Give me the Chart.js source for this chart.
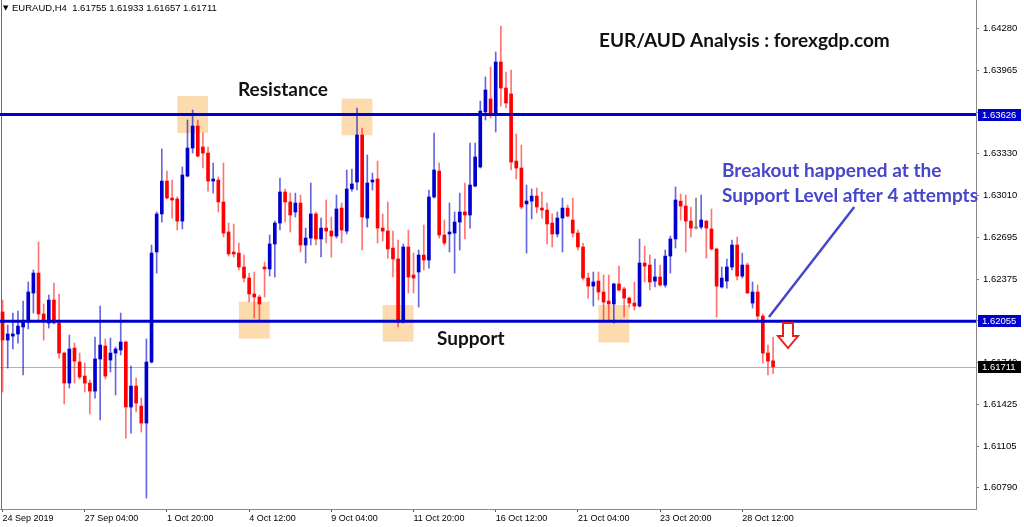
<!DOCTYPE html>
<html>
<head>
<meta charset="utf-8">
<title>EUR/AUD H4</title>
<script src="https://cdn.jsdelivr.net/npm/chart.js@4.4.1/dist/chart.umd.min.js"></script>
<style>
  html, body { margin: 0; padding: 0; background: #fff; }
  canvas { display: block; }
</style>
</head>
<body>
<canvas id="chart" width="1024" height="527"></canvas>
<script>
// EURAUD H4 candles (oldest first)
const opens = [
  1.62126, 1.61913, 1.61943, 1.61959, 1.62012, 1.62050, 1.62270, 1.62422, 1.62111, 1.62042,
  1.62217, 1.62042, 1.61814, 1.61586, 1.61852, 1.61746, 1.61639, 1.61586, 1.61525, 1.61769,
  1.61867, 1.61761, 1.61814, 1.61837, 1.61898, 1.61404, 1.61563, 1.61411, 1.61282, 1.61746,
  1.62582, 1.62871, 1.63121, 1.62992, 1.62985, 1.62817, 1.63159, 1.63372, 1.63539, 1.63380,
  1.63334, 1.63121, 1.63129, 1.62962, 1.62734, 1.62582, 1.62574, 1.62468, 1.62384, 1.62263,
  1.62240, 1.62468, 1.62453, 1.62643, 1.62802, 1.63038, 1.62962, 1.62886, 1.62954, 1.62635,
  1.62688, 1.62871, 1.62681, 1.62764, 1.62741, 1.62703, 1.62916, 1.62741, 1.63061, 1.63114,
  1.63471, 1.62840, 1.63114, 1.63137, 1.62764, 1.62741, 1.62612, 1.62529, 1.62050, 1.62620,
  1.62407, 1.62430, 1.62559, 1.62521, 1.63000, 1.63197, 1.62711, 1.62719, 1.62726, 1.62810,
  1.62886, 1.62863, 1.63083, 1.63228, 1.63646, 1.63745, 1.63638, 1.64026, 1.63828, 1.63783,
  1.63273, 1.63220, 1.62947, 1.62969, 1.63007, 1.62916, 1.62901, 1.62802, 1.62719, 1.62840,
  1.62916, 1.62825, 1.62726, 1.62620, 1.62384, 1.62323, 1.62361, 1.62278, 1.62209, 1.62187,
  1.62339, 1.62301, 1.62232, 1.62194, 1.62171, 1.62498, 1.62483, 1.62361, 1.62392, 1.62331,
  1.62551, 1.62681, 1.62969, 1.62931, 1.62817, 1.62764, 1.62772, 1.62817, 1.62757, 1.62605,
  1.62316, 1.62361, 1.62468, 1.62635, 1.62399, 1.62483, 1.62194, 1.62278, 1.62095, 1.61814,
  1.61755
];
const highs = [
  1.62217, 1.62027, 1.62118, 1.62133, 1.62209, 1.62354, 1.62445, 1.62658, 1.62187, 1.62255,
  1.62346, 1.62263, 1.61822, 1.61951, 1.61890, 1.61814, 1.61738, 1.61609, 1.61936, 1.62171,
  1.61921, 1.61928, 1.61860, 1.62118, 1.61905, 1.61715, 1.61624, 1.61472, 1.61921, 1.62635,
  1.62886, 1.63365, 1.63197, 1.63129, 1.63000, 1.63228, 1.63585, 1.63661, 1.63585, 1.63486,
  1.63380, 1.63258, 1.63152, 1.63258, 1.62802, 1.62795, 1.62650, 1.62559, 1.62422, 1.62430,
  1.62255, 1.62506, 1.62711, 1.62817, 1.63144, 1.63061, 1.63030, 1.63030, 1.63015, 1.62764,
  1.63106, 1.62886, 1.62840, 1.62977, 1.62848, 1.63015, 1.62954, 1.63205, 1.63213, 1.63676,
  1.63524, 1.63319, 1.63182, 1.63273, 1.62871, 1.62962, 1.62741, 1.62673, 1.62643, 1.62749,
  1.62574, 1.62597, 1.62787, 1.63053, 1.63486, 1.63258, 1.62825, 1.62954, 1.62886, 1.63030,
  1.63106, 1.63410, 1.63410, 1.63729, 1.63912, 1.63988, 1.64102, 1.64299, 1.63950, 1.63965,
  1.63479, 1.63395, 1.63091, 1.63061, 1.63068, 1.63038, 1.62954, 1.62871, 1.62886, 1.62992,
  1.62939, 1.62992, 1.62749, 1.62650, 1.62422, 1.62430, 1.62430, 1.62407, 1.62407, 1.62346,
  1.62475, 1.62316, 1.62240, 1.62354, 1.62681, 1.62627, 1.62559, 1.62529, 1.62483, 1.62597,
  1.62703, 1.63076, 1.63023, 1.63015, 1.62924, 1.62992, 1.63015, 1.62825, 1.62909, 1.62612,
  1.62468, 1.62529, 1.62673, 1.62696, 1.62574, 1.62498, 1.62354, 1.62331, 1.62111, 1.61875,
  1.61933
];
const lows = [
  1.61518, 1.61700, 1.61845, 1.61890, 1.61647, 1.61997, 1.62118, 1.62065, 1.61913, 1.62004,
  1.62035, 1.61776, 1.61427, 1.61548, 1.61586, 1.61617, 1.61518, 1.61351, 1.61472, 1.61305,
  1.61617, 1.61670, 1.61495, 1.61799, 1.61168, 1.61206, 1.61366, 1.61214, 1.60712, 1.61738,
  1.62422, 1.62810, 1.62985, 1.62840, 1.62749, 1.62757, 1.63152, 1.63334, 1.63304, 1.63220,
  1.63045, 1.63030, 1.62886, 1.62696, 1.62551, 1.62544, 1.62445, 1.62354, 1.62202, 1.62080,
  1.62065, 1.62240, 1.62399, 1.62392, 1.62749, 1.62810, 1.62734, 1.62848, 1.62582, 1.62498,
  1.62635, 1.62635, 1.62544, 1.62650, 1.62544, 1.62688, 1.62650, 1.62719, 1.63045, 1.63053,
  1.62597, 1.62772, 1.63053, 1.62650, 1.62665, 1.62536, 1.62392, 1.62012, 1.62042, 1.62270,
  1.62270, 1.62164, 1.62445, 1.62460, 1.62992, 1.62688, 1.62635, 1.62582, 1.62422, 1.62597,
  1.62681, 1.62764, 1.63076, 1.63220, 1.63585, 1.63600, 1.63494, 1.63691, 1.63676, 1.63205,
  1.63137, 1.62909, 1.62574, 1.62833, 1.62878, 1.62840, 1.62643, 1.62620, 1.62696, 1.62582,
  1.62848, 1.62696, 1.62597, 1.62369, 1.62232, 1.62171, 1.62217, 1.62065, 1.62065, 1.62042,
  1.62285, 1.62088, 1.62164, 1.62141, 1.62164, 1.62354, 1.62293, 1.62316, 1.62323, 1.62316,
  1.62422, 1.62612, 1.62825, 1.62582, 1.62696, 1.62757, 1.62757, 1.62536, 1.62597, 1.62088,
  1.62308, 1.62308, 1.62445, 1.62369, 1.62384, 1.62270, 1.62156, 1.62065, 1.61738, 1.61647,
  1.61657
];
const closes = [
  1.61913, 1.61959, 1.61959, 1.62019, 1.62050, 1.62278, 1.62422, 1.62111, 1.62065, 1.62217,
  1.62042, 1.61814, 1.61586, 1.61845, 1.61753, 1.61632, 1.61586, 1.61525, 1.61769, 1.61875,
  1.61639, 1.61814, 1.61845, 1.61898, 1.61404, 1.61563, 1.61434, 1.61282, 1.61746, 1.62574,
  1.62871, 1.63121, 1.62992, 1.62977, 1.62817, 1.63167, 1.63372, 1.63539, 1.63311, 1.63334,
  1.63121, 1.63137, 1.62962, 1.62726, 1.62567, 1.62567, 1.62468, 1.62384, 1.62263, 1.62240,
  1.62187, 1.62453, 1.62643, 1.62802, 1.63038, 1.62962, 1.62863, 1.62954, 1.62635, 1.62688,
  1.62871, 1.62681, 1.62764, 1.62741, 1.62703, 1.62909, 1.62749, 1.63061, 1.63099, 1.63471,
  1.62848, 1.63106, 1.63129, 1.62764, 1.62741, 1.62605, 1.62529, 1.62050, 1.62620, 1.62392,
  1.62384, 1.62559, 1.62521, 1.63000, 1.63205, 1.62711, 1.62650, 1.62734, 1.62810, 1.62886,
  1.62863, 1.63091, 1.63304, 1.63653, 1.63813, 1.63638, 1.64026, 1.63828, 1.63714, 1.63266,
  1.63220, 1.62924, 1.62969, 1.63007, 1.62924, 1.62901, 1.62795, 1.62719, 1.62840, 1.62916,
  1.62855, 1.62726, 1.62620, 1.62384, 1.62323, 1.62354, 1.62278, 1.62202, 1.62187, 1.62339,
  1.62293, 1.62232, 1.62194, 1.62171, 1.62498, 1.62475, 1.62354, 1.62392, 1.62331, 1.62551,
  1.62681, 1.62977, 1.62931, 1.62817, 1.62764, 1.62764, 1.62825, 1.62764, 1.62605, 1.62323,
  1.62384, 1.62468, 1.62635, 1.62399, 1.62483, 1.62270, 1.62278, 1.62095, 1.61814, 1.61753,
  1.61711
];

// time axis: one label every 16 bars, empty space kept on the right (chart shift)
const slotCount = 190;
const timeLabels = ['24 Sep 2019', '27 Sep 04:00', '1 Oct 20:00', '4 Oct 12:00', '9 Oct 04:00',
  '11 Oct 20:00', '16 Oct 12:00', '21 Oct 04:00', '23 Oct 20:00', '28 Oct 12:00'];
const timeLabelBars = [0, 16, 32, 48, 64, 80, 96, 112, 128, 144];

const priceTicks = [1.64280, 1.63965, 1.63645, 1.63330, 1.63010, 1.62695, 1.62375,
  1.62060, 1.61740, 1.61425, 1.61105, 1.60790];

const resistance = 1.63626;
const support = 1.62055;
const lastPrice = 1.61711;

// highlighted touches: [bar, top price, bottom price]
const touchZones = [
  [37, 1.63767, 1.63486],
  [69, 1.63747, 1.63469],
  [49, 1.62204, 1.61923],
  [77, 1.62179, 1.61900],
  [119, 1.62179, 1.61895]
];

const BULL = '#0000cd';
const BEAR = '#ff0000';
const DOJI = '#808080';
const NOTE_BLUE = '#4646cc';

const candleColors = opens.map((o, i) => closes[i] > o ? BULL : (closes[i] < o ? BEAR : DOJI));
const wickColors = opens.map((o, i) =>
  closes[i] > o ? 'rgba(0,0,205,0.6)' : (closes[i] < o ? 'rgba(255,0,0,0.55)' : DOJI));

const labelAt = new Map(timeLabelBars.map((b, i) => [b, timeLabels[i]]));
const slots = Array.from({ length: slotCount }, (_, i) => String(i));

const overlay = {
  id: 'overlay',
  beforeDatasetsDraw(chart) {
    const { ctx, chartArea: a, scales: { x, y } } = chart;
    const step = x.getPixelForValue(1) - x.getPixelForValue(0);
    ctx.save();
    ctx.fillStyle = 'rgba(251,200,130,0.65)';
    touchZones.forEach(([bar, top, bottom]) => {
      const cx = x.getPixelForValue(bar);
      const y1 = y.getPixelForValue(top);
      const y2 = y.getPixelForValue(bottom);
      ctx.fillRect(cx - 3 * step, y1, 6 * step, y2 - y1);
    });
    // last price line
    const ly = Math.round(y.getPixelForValue(lastPrice)) + 0.5;
    ctx.strokeStyle = '#aab4c4';
    ctx.lineWidth = 1;
    ctx.beginPath();
    ctx.moveTo(a.left, ly);
    ctx.lineTo(a.right, ly);
    ctx.stroke();
    // left frame
    ctx.strokeStyle = '#6e6e6e';
    ctx.beginPath();
    ctx.moveTo(1.5, a.top);
    ctx.lineTo(1.5, a.bottom);
    ctx.stroke();
    ctx.restore();
  },
  afterDatasetsDraw(chart) {
    const { ctx, chartArea: a, scales: { x, y } } = chart;
    ctx.save();
    ctx.strokeStyle = BULL;
    ctx.lineWidth = 3;
    [resistance, support].forEach(p => {
      const py = y.getPixelForValue(p);
      ctx.beginPath();
      ctx.moveTo(a.left, py);
      ctx.lineTo(a.right, py);
      ctx.stroke();
    });

    // pointer line to the breakout candle
    ctx.strokeStyle = NOTE_BLUE;
    ctx.lineWidth = 2.5;
    ctx.beginPath();
    ctx.moveTo(x.getPixelForValue(149.2), y.getPixelForValue(1.62088));
    ctx.lineTo(x.getPixelForValue(165.8), y.getPixelForValue(1.62924));
    ctx.stroke();

    // hollow red down arrow
    const ax = x.getPixelForValue(152.9);
    const aTop = y.getPixelForValue(1.62042);
    const aTip = y.getPixelForValue(1.61852);
    const neck = aTop + (aTip - aTop) * 0.52;
    ctx.beginPath();
    ctx.moveTo(ax - 5, aTop);
    ctx.lineTo(ax + 5, aTop);
    ctx.lineTo(ax + 5, neck);
    ctx.lineTo(ax + 10, neck);
    ctx.lineTo(ax, aTip);
    ctx.lineTo(ax - 10, neck);
    ctx.lineTo(ax - 5, neck);
    ctx.closePath();
    ctx.fillStyle = '#fff';
    ctx.fill();
    ctx.strokeStyle = '#e82020';
    ctx.lineWidth = 2;
    ctx.stroke();
    ctx.restore();
  },
  afterDraw(chart) {
    const { ctx, chartArea: a, scales: { y } } = chart;
    ctx.save();
    // price tags on the right axis
    ctx.font = '9.5px "Liberation Sans", Arial, sans-serif';
    ctx.textBaseline = 'middle';
    ctx.textAlign = 'left';
    [[resistance, BULL], [support, BULL], [lastPrice, '#000']].forEach(([p, bg]) => {
      const py = Math.round(y.getPixelForValue(p));
      ctx.fillStyle = bg;
      ctx.fillRect(a.right + 2, py - 6, 43, 12);
      ctx.fillStyle = '#fff';
      ctx.fillText(p.toFixed(5), a.right + 6, py + 0.5);
    });

    // header line
    ctx.fillStyle = '#000';
    ctx.font = '7px "DejaVu Sans", sans-serif';
    ctx.fillText('\u25BC', 3, 8);
    ctx.font = '9.5px "Liberation Sans", Arial, sans-serif';
    ctx.fillText('EURAUD,H4  ' + [opens[150], highs[150], lows[150], closes[150]]
      .map(v => v.toFixed(5)).join(' '), 12, 8);

    // annotations
    ctx.textBaseline = 'alphabetic';
    ctx.font = 'bold 19px Lato, "Open Sans", sans-serif';
    ctx.fillStyle = '#111';
    ctx.fillText('EUR/AUD Analysis : forexgdp.com', 599, 47);
    ctx.fillText('Resistance', 238, 96);
    ctx.fillText('Support', 437, 345);
    ctx.fillStyle = NOTE_BLUE;
    ctx.fillText('Breakout happened at the', 722, 177);
    ctx.fillText('Support Level after 4 attempts', 722, 202);
    ctx.restore();
  }
};

new Chart(document.getElementById('chart'), {
  type: 'bar',
  data: {
    labels: slots,
    datasets: [
      {
        label: 'body',
        data: opens.map((o, i) => [o, closes[i]]),
        backgroundColor: candleColors,
        barThickness: 3,
        minBarLength: 1,
        grouped: false,
        borderWidth: 0,
        order: 1
      },
      {
        label: 'wick',
        data: lows.map((l, i) => [l, highs[i]]),
        backgroundColor: wickColors,
        barThickness: 1,
        grouped: false,
        borderWidth: 0,
        order: 2
      }
    ]
  },
  options: {
    responsive: false,
    animation: false,
    devicePixelRatio: 1,
    layout: { padding: 0 },
    plugins: { legend: { display: false }, tooltip: { enabled: false } },
    scales: {
      x: {
        type: 'category',
        offset: true,
        grid: {
          offset: false,
          drawOnChartArea: false,
          drawTicks: true,
          tickLength: 3,
          color: ctx => labelAt.has(ctx.index) ? '#555' : 'rgba(0,0,0,0)'
        },
        border: { display: true, color: '#8a8a8a', width: 1 },
        ticks: {
          autoSkip: false,
          maxRotation: 0,
          minRotation: 0,
          align: 'start',
          padding: 1,
          color: '#000',
          font: { family: '"Liberation Sans", Arial, sans-serif', size: 9 },
          callback: (v, i) => labelAt.get(i) || ''
        },
        afterFit: s => { s.height = 18; s.paddingLeft = 0; s.paddingRight = 0; }
      },
      y: {
        position: 'right',
        min: 1.60629,
        max: 1.64497,
        grid: {
          drawOnChartArea: false,
          drawTicks: true,
          tickLength: 3,
          color: '#808080'
        },
        border: { display: true, color: '#8a8a8a', width: 1 },
        ticks: {
          padding: 4,
          color: '#000',
          font: { family: '"Liberation Sans", Arial, sans-serif', size: 9.5 },
          callback: v => Number(v).toFixed(5)
        },
        afterBuildTicks: s => { s.ticks = priceTicks.map(v => ({ value: v })); },
        afterFit: s => { s.width = 48; s.paddingTop = 0; s.paddingBottom = 0; }
      }
    }
  },
  plugins: [overlay]
});
</script>
</body>
</html>
